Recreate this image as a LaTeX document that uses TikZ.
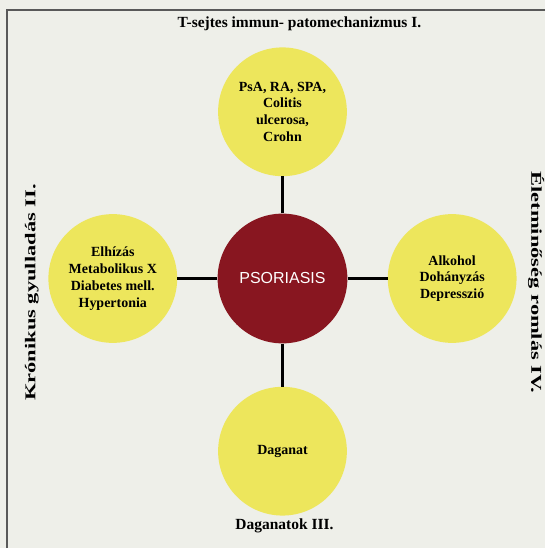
\documentclass[tikz,border=0pt]{standalone}
\usepackage{fontspec}
\setmainfont{Liberation Serif}
\setsansfont{Liberation Sans}
\usetikzlibrary{positioning}
\definecolor{paper}{RGB}{238,239,233}
\definecolor{psred}{RGB}{136,22,32}
\definecolor{disc}{RGB}{237,230,92}
\tikzset{
  node distance=170pt,
  core/.style={circle, inner sep=0pt, fill=psred, minimum size=130pt,
    text=white, font=\sffamily\fontsize{16}{18}\selectfont},
  topic/.style={circle, inner sep=0pt, fill=disc, minimum size=129pt,
    align=center, font=\bfseries\fontsize{14}{16.8}\selectfont},
  caption/.style={font=\bfseries\fontsize{15.5}{18}\selectfont},
  sidecap/.style={font=\bfseries\fontsize{15}{18}\selectfont, transform shape, xscale=1.5},
  link/.style={line width=3pt},
}
\begin{document}
\begin{tikzpicture}[x=1pt,y=-1pt]
  \fill[paper] (0,0) rectangle (546,549);
  \draw[line width=2pt, black!65] (7,549) -- (7,10) -- (546,10);

  \node[core] (ps) at (283,279) {PSORIASIS};
  \node[topic,above of=ps,node distance=167pt] (tcell) {PsA, RA, SPA,\\Colitis\\ulcerosa,\\Crohn};
  \node[topic,left of=ps] (chronic) {Elhízás\\Metabolikus X\\Diabetes mell.\\Hypertonia};
  \node[topic,right of=ps] (quality) {Alkohol\\Dohányzás\\Depresszió};
  \node[topic,below of=ps,node distance=173pt] (tumour) {Daganat};

  \draw[link] (ps) -- (tcell)
              (ps) -- (chronic)
              (ps) -- (quality)
              (ps) -- (tumour);

  \node[caption] (capI) at (300,24) {T-sejtes immun- patomechanizmus I.};
  \node[caption] (capIII) at (285,527) {Daganatok III.};
  \node[rotate=90,sidecap] (capII) at (32,293) {Krónikus gyulladás II.};
  \node[rotate=-90,sidecap] (capIV) at (537,283) {Életminőség romlás IV.};
\end{tikzpicture}
\end{document}
